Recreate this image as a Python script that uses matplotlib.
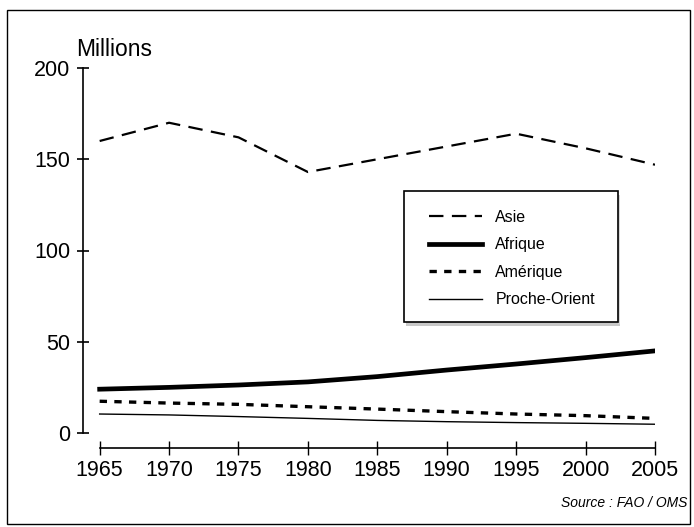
import matplotlib.pyplot as plt
from matplotlib.patches import Rectangle

plt.rcParams['font.family'] = ['Liberation Sans', 'DejaVu Sans']

years = [1965, 1970, 1975, 1980, 1985, 1990, 1995, 2000, 2005]
asie = [160, 170, 162, 143, 150, 157, 164, 156, 147]
afrique = [24, 25, 26.3, 28, 30.9, 34.5, 37.8, 41.3, 45]
amerique = [17.4, 16.4, 15.7, 14.4, 13.1, 11.7, 10.4, 9.5, 8]
proche_orient = [10.4, 9.9, 9, 8, 6.9, 6.2, 5.7, 5.3, 4.8]
series_names = ['Asie', 'Afrique', 'Amérique', 'Proche-Orient']

W, H = 694, 527
fig = plt.figure(figsize=(W / 100, H / 100), dpi=100)
ax = fig.add_axes([83 / W, 1 - 433 / H, (655 - 83) / W, (433 - 68) / H])

ax.plot(years, asie, color='black', lw=1.6, dashes=(6.5, 3.8), label=series_names[0])
ax.plot(years, afrique, color='black', lw=3.4, label=series_names[1])
ax.plot(years, amerique, color='black', lw=2.4, dashes=(2.2, 2.2), label=series_names[2])
ax.plot(years, proche_orient, color='black', lw=1.0, label=series_names[3])

ax.set_xlim(1963.8, 2005)
ax.set_ylim(0, 200)
ax.set_xticks(years)
ax.set_yticks([0, 50, 100, 150, 200])

for s in ['top', 'right']:
    ax.spines[s].set_visible(False)
ax.spines['left'].set_bounds(0, 200)
ax.spines['bottom'].set_bounds(1965, 2005)
ax.spines['bottom'].set_position(('outward', 11))
ax.spines['left'].set_linewidth(1.2)
ax.spines['bottom'].set_linewidth(1.2)
ax.tick_params(axis='y', direction='inout', length=8, width=1.2, labelsize=15.5, pad=5)
ax.tick_params(axis='x', direction='inout', length=9.5, width=1.0, labelsize=15.5, pad=4)

ax.text(76 / W, 1 - 56 / H, 'Millions', transform=fig.transFigure, fontsize=16.5,
        va='baseline', ha='left')

# legend box drawn separately so the padding can be matched
fig.patches.append(Rectangle((406 / W, 1 - 326 / H), (620 - 406) / W, 4 / H,
                             transform=fig.transFigure, fc='#c8c8c8', ec='none'))
fig.patches.append(Rectangle((618 / W, 1 - 324 / H), 2 / W, (324 - 195) / H,
                             transform=fig.transFigure, fc='#d8d8d8', ec='none'))
fig.patches.append(Rectangle((404 / W, 1 - 322 / H), (618 - 404) / W, (322 - 191) / H,
                             transform=fig.transFigure, fill=False, lw=1.2, ec='black'))
fig.legend(loc='upper left', bbox_to_anchor=(429 / W, 1 - 210 / H), frameon=False,
           fontsize=11.5, handlelength=3.3, handletextpad=0.85, labelspacing=0.78,
           borderpad=0, borderaxespad=0)

fig.text(687 / W, 1 - 503 / H, 'Source : FAO / OMS', fontsize=10, style='italic',
         ha='right', va='center')

fig.patches.append(Rectangle((7 / W, 1 - 524 / H), (690 - 7) / W, (524 - 10) / H,
                             transform=fig.transFigure, fill=False, lw=1.0, ec='black'))

fig.savefig('out.png', dpi=100)
